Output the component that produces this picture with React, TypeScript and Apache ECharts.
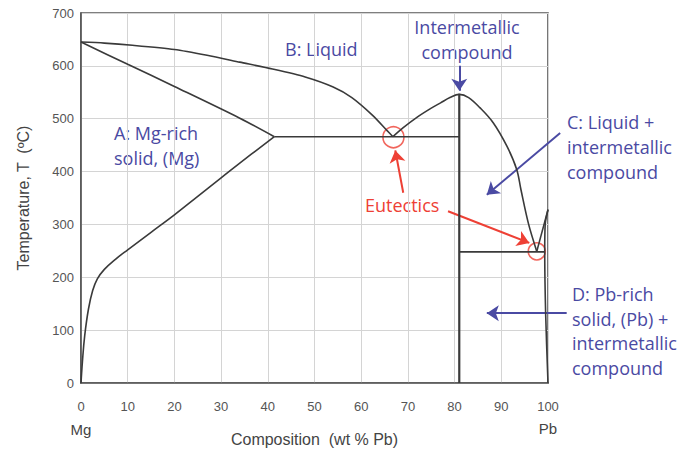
import React, { useEffect, useRef } from "react";
import * as echarts from "echarts";

// Tick values
const xTicks = [0, 10, 20, 30, 40, 50, 60, 70, 80, 90, 100];
const yTicks = [0, 100, 200, 300, 400, 500, 600, 700];

// Phase boundaries [wt% Pb, T (°C)]
const liquidusMg: number[][] = [
  [0, 645], [5, 643], [11, 639], [20, 631], [27, 620], [34, 607], [41, 594],
  [48, 579], [54, 560], [58, 540], [62.5, 506], [65.5, 478], [66.8, 466],
];
const solidusMg: number[][] = [[0, 645], [10, 603], [20, 561], [34, 501], [41.4, 466]];
const solvusMg: number[][] = [
  [0, 0], [0.3, 40], [0.8, 90], [1.6, 140], [2.5, 175], [3.5, 197], [5, 215],
  [7.5, 235], [10, 252], [15, 285], [20, 318], [25, 353], [30, 388], [34, 416], [41.4, 466],
];
const eutectic1: number[][] = [[41.4, 466], [81, 466]];
const compoundLine: number[][] = [[81, 0], [81, 547]];
const liquidusCompound: number[][] = [
  [66.8, 466], [69, 483], [72, 503], [75, 520], [77, 530], [79, 540], [81, 546],
  [83, 540], [85.4, 521], [88.3, 492], [91.2, 448], [93.3, 404], [94.2, 366],
  [95.8, 302], [97.6, 249],
];
const liquidusPb: number[][] = [[97.6, 249], [100, 328]];
const eutectic2: number[][] = [[81, 248], [99.3, 248]];
const solvusPb: number[][] = [[100, 328], [99.4, 300], [99.3, 250], [99.5, 130], [100, 0]];

// Eutectic points (circled)
const eutecticPoints: number[][] = [[66.9, 465], [97.6, 249]];
const eutecticSizes = [21, 17];

// Annotation arrows [from, to]
const blueArrows: number[][][] = [
  [[81, 600], [81, 553]],
  [[102.6, 473], [86.9, 356]],
  [[104, 132], [86.9, 132]],
];
const redArrows: number[][][] = [
  [[69, 360], [67.3, 440]],
  [[78.6, 325], [96, 265]],
];

const BLUE = "#4a4aa3";
const RED = "#ee4035";
const LINE = "#3a3a3a";

export default function App() {
  const ref = useRef<HTMLDivElement>(null);
  useEffect(() => {
    if (!ref.current) return;
    const chart = echarts.init(ref.current, undefined, { renderer: "svg" });
    const curve = (data: number[][], smooth: number | boolean = false, width = 1.6) => ({
      type: "line",
      data,
      smooth,
      showSymbol: false,
      silent: true,
      clip: false,
      lineStyle: { color: LINE, width },
    });
    const arrows = (list: number[][][], color: string) => ({
      type: "lines",
      coordinateSystem: "cartesian2d",
      silent: true,
      clip: false,
      symbol: ["none", "arrow"],
      symbolSize: [8, 12],
      lineStyle: { color, width: 2, opacity: 1 },
      data: list.map((c) => ({ coords: c })),
    });
    const annFont = "18px 'Open Sans'";
    chart.setOption({
      animation: false,
      grid: {
        left: 81, right: 146, top: 13, bottom: 71,
        show: true, borderColor: "#555", borderWidth: 1.6,
      },
      xAxis: {
        type: "value", min: 0, max: 100, interval: 10,
        axisLine: { show: true, lineStyle: { color: "#555", width: 1.6 } },
        axisTick: { show: false },
        splitLine: { show: true, lineStyle: { color: "#d4d4d4", width: 1 } },
        axisLabel: {
          color: "#555", fontSize: 13, fontFamily: "Liberation Sans", margin: 17,
          formatter: (v: number) => (xTicks.includes(v) ? String(v) : ""),
        },
        name: "Composition  (wt % Pb)",
        nameLocation: "middle",
        nameGap: 48,
        nameTextStyle: { color: "#444", fontSize: 16, fontFamily: "Liberation Sans" },
      },
      yAxis: {
        type: "value", min: 0, max: 700, interval: 100,
        axisLine: { show: true, lineStyle: { color: "#555", width: 1.6 } },
        axisTick: { show: false },
        splitLine: { show: true, lineStyle: { color: "#d4d4d4", width: 1 } },
        axisLabel: {
          color: "#555", fontSize: 13, fontFamily: "Liberation Sans", margin: 7,
          formatter: (v: number) => (yTicks.includes(v) ? String(v) : ""),
        },
        name: "Temperature, T  (ºC)",
        nameLocation: "middle",
        nameGap: 50,
        nameTextStyle: { color: "#444", fontSize: 16, fontFamily: "Liberation Sans" },
      },
      series: [
        curve(liquidusMg, 0.25),
        curve(solidusMg, 0.3),
        curve(solvusMg, 0.4),
        curve(eutectic1),
        curve(compoundLine, false, 2.2),
        curve(liquidusCompound, 0.35),
        curve(liquidusPb),
        curve(eutectic2),
        curve(solvusPb, 0.3),
        {
          type: "scatter",
          silent: true,
          data: eutecticPoints,
          symbol: "circle",
          symbolSize: (_v: any, p: any) => eutecticSizes[p.dataIndex],
          itemStyle: { color: "rgba(0,0,0,0)", borderColor: RED, borderWidth: 1.6 },
        },
        arrows(blueArrows, BLUE),
        arrows(redArrows, RED),
      ],
      graphic: [
        { type: "text", x: 285, y: 49, style: { text: "B: Liquid", font: annFont, fill: BLUE, verticalAlign: "middle" } },
        { type: "text", x: 467, y: 39, style: { text: "Intermetallic\ncompound", font: annFont, fill: BLUE, align: "center", verticalAlign: "middle", lineHeight: 25 } },
        { type: "text", x: 114, y: 145, style: { text: "A: Mg-rich\nsolid, (Mg)", font: annFont, fill: BLUE, verticalAlign: "middle", lineHeight: 25 } },
        { type: "text", x: 567, y: 147, style: { text: "C: Liquid +\nintermetallic\ncompound", font: annFont, fill: BLUE, verticalAlign: "middle", lineHeight: 25 } },
        { type: "text", x: 572, y: 331, style: { text: "D: Pb-rich\nsolid, (Pb) +\nintermetallic\ncompound", font: annFont, fill: BLUE, verticalAlign: "middle", lineHeight: 24.8 } },
        { type: "text", x: 365, y: 205, style: { text: "Eutectics", font: annFont, fill: RED, verticalAlign: "middle" } },
        { type: "text", x: 81, y: 429, style: { text: "Mg", font: "15px 'Liberation Sans'", fill: "#444", align: "center", verticalAlign: "middle" } },
        { type: "text", x: 548, y: 428, style: { text: "Pb", font: "15px 'Liberation Sans'", fill: "#444", align: "center", verticalAlign: "middle" } },
      ],
    });
    return () => chart.dispose();
  }, []);
  return (
    <div
      ref={ref}
      style={{ position: "fixed", left: 0, top: 0, width: 694, height: 454, background: "#fff" }}
    />
  );
}
